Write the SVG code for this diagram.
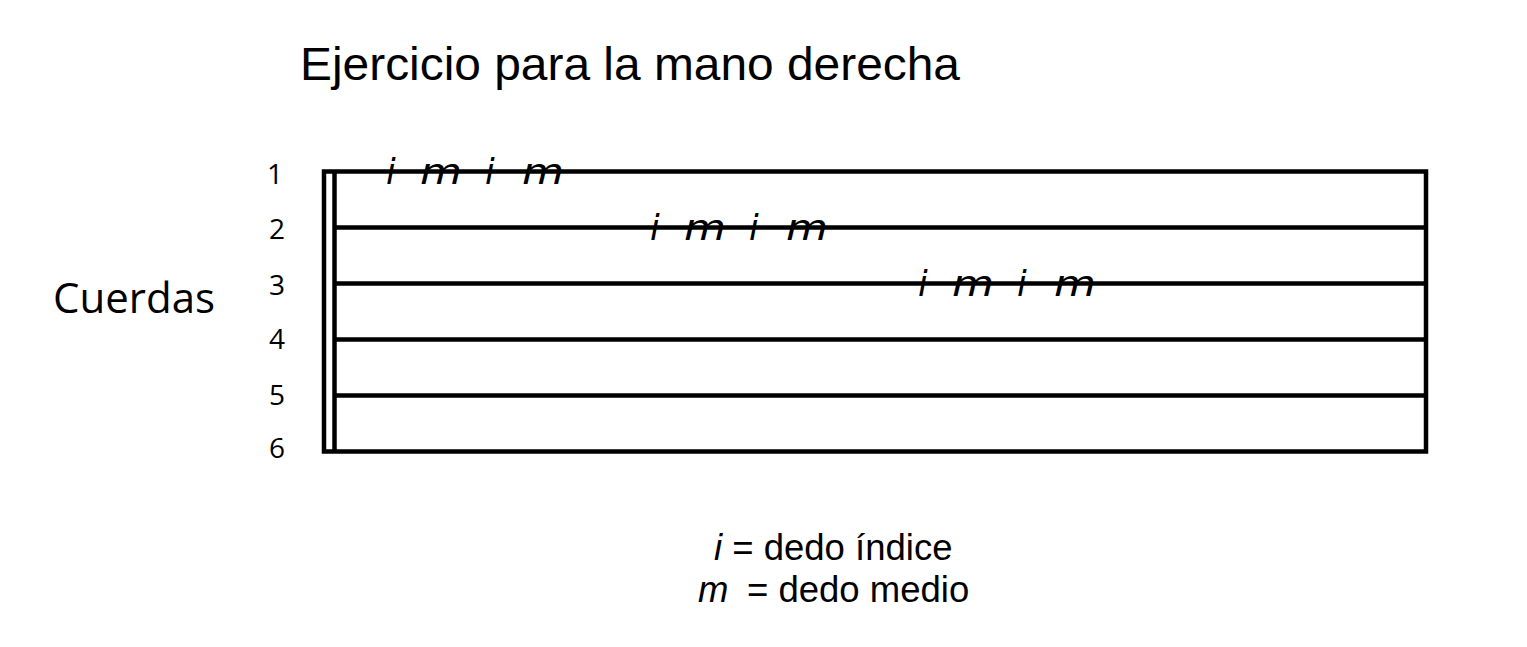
<svg xmlns="http://www.w3.org/2000/svg" width="1527" height="647" viewBox="0 0 1527 647">
<style>
.ln{stroke:#000;stroke-width:4.5;fill:none}
.num{font-family:"Open Sans","Noto Sans",sans-serif;font-size:28px;fill:#000;text-anchor:middle}
.fg{font-family:"DejaVu Sans","Open Sans",sans-serif;font-style:italic;font-size:35px;fill:#000}
.ar{font-family:"Liberation Sans",Arial,sans-serif;fill:#000}
</style>
<rect width="1527" height="647" fill="#fff"/>
<g id="title"><text class="ar" x="300" y="80" font-size="46" textLength="660" lengthAdjust="spacingAndGlyphs">Ejercicio para la mano derecha</text></g>
<g id="staff">
<rect class="ln" x="324" y="171.5" width="1102" height="280"/>
<line class="ln" x1="334.5" y1="171.5" x2="334.5" y2="451.5"/>
<line class="ln" x1="334.5" y1="227.5" x2="1426" y2="227.5"/>
<line class="ln" x1="334.5" y1="283.5" x2="1426" y2="283.5"/>
<line class="ln" x1="334.5" y1="339.5" x2="1426" y2="339.5"/>
<line class="ln" x1="334.5" y1="395.5" x2="1426" y2="395.5"/>
</g>
<g id="string-numbers">
<text class="num" x="275" y="184">1</text>
<text class="num" x="277" y="239">2</text>
<text class="num" x="277" y="295">3</text>
<text class="num" x="277" y="349">4</text>
<text class="num" x="277" y="405">5</text>
<text class="num" x="277" y="458">6</text>
</g>
<g id="cuerdas"><text x="53" y="313" font-family="Open Sans,Noto Sans,sans-serif" font-size="42">Cuerdas</text></g>
<g id="fingering-1">
<text class="fg" x="386" y="184">i</text><text class="fg" x="420" y="184" textLength="42" lengthAdjust="spacingAndGlyphs">m</text><text class="fg" x="485" y="184">i</text><text class="fg" x="522" y="184" textLength="42" lengthAdjust="spacingAndGlyphs">m</text>
</g>
<g id="fingering-2">
<text class="fg" x="650" y="240">i</text><text class="fg" x="684" y="240" textLength="42" lengthAdjust="spacingAndGlyphs">m</text><text class="fg" x="749" y="240">i</text><text class="fg" x="786" y="240" textLength="42" lengthAdjust="spacingAndGlyphs">m</text>
</g>
<g id="fingering-3">
<text class="fg" x="918" y="296">i</text><text class="fg" x="952" y="296" textLength="42" lengthAdjust="spacingAndGlyphs">m</text><text class="fg" x="1017" y="296">i</text><text class="fg" x="1054" y="296" textLength="42" lengthAdjust="spacingAndGlyphs">m</text>
</g>
<g id="legend">
<text class="ar" x="714" y="560" font-size="36.5"><tspan font-style="italic">i</tspan> = dedo índice</text>
<text class="ar" x="698" y="602" font-size="36.5"><tspan font-style="italic">m</tspan><tspan x="747">= dedo medio</tspan></text>
</g>
</svg>
